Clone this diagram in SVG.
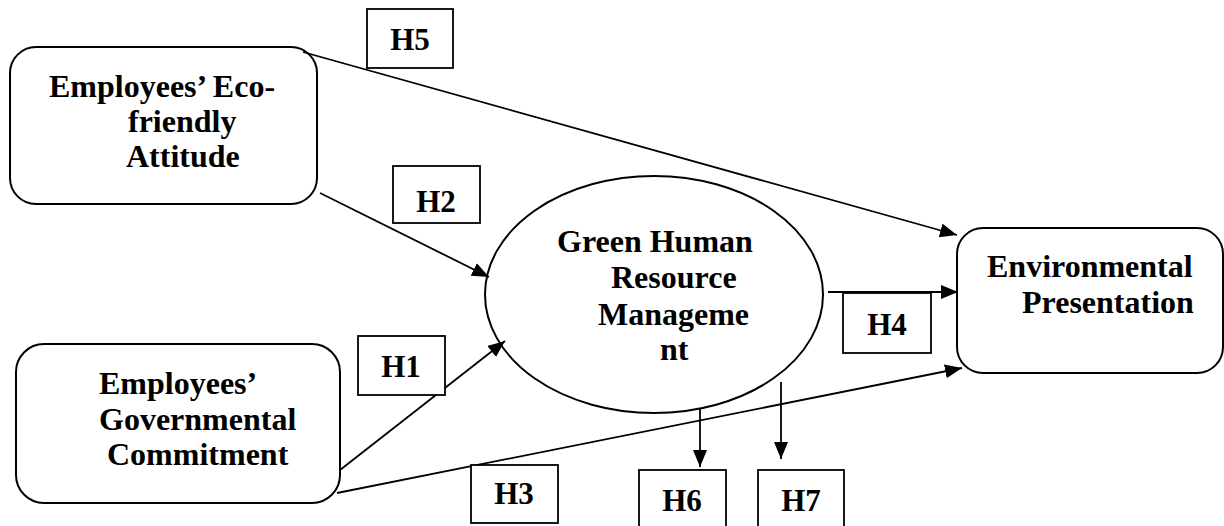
<svg xmlns="http://www.w3.org/2000/svg" width="1224" height="526" viewBox="0 0 1224 526">
<style>
.node{fill:#fff;stroke:#000;stroke-width:2}
.lbl{fill:#fff;stroke:#000;stroke-width:1.8}
.t{font-family:'Liberation Serif','Times New Roman',serif;font-weight:bold;font-size:32px;fill:#000}
.h{font-family:'Liberation Serif','Times New Roman',serif;font-weight:bold;font-size:31px;fill:#000;text-anchor:middle}
.c{fill:none;stroke:#000;stroke-width:1.8;marker-end:url(#arr)}
</style>
<defs>
<marker id="arr" markerUnits="userSpaceOnUse" markerWidth="18" markerHeight="14" refX="17" refY="7" orient="auto">
<path d="M0,0 L17,7 L0,14 z" fill="#000"/>
</marker>
</defs>
<rect width="1224" height="526" fill="#fff"/>
<g id="eco">
<rect class="node" x="10" y="47" width="307" height="157" rx="26"/>
<text class="t" x="49" y="97">Employees’ Eco-</text>
<text class="t" x="128" y="132">friendly</text>
<text class="t" x="126" y="167">Attitude</text>
</g>
<g id="gov">
<rect class="node" x="16" y="344" width="324" height="159" rx="28"/>
<text class="t" x="99" y="394">Employees’</text>
<text class="t" x="99" y="430">Governmental</text>
<text class="t" x="107" y="465">Commitment</text>
</g>
<g id="ghrm">
<ellipse class="node" cx="654" cy="294.5" rx="169" ry="118.5"/>
<text class="t" x="557" y="252">Green Human</text>
<text class="t" x="611" y="288">Resource</text>
<text class="t" x="598" y="325">Manageme</text>
<text class="t" x="660" y="360">nt</text>
</g>
<g id="env">
<rect class="node" x="957" y="228" width="266" height="145" rx="26"/>
<text class="t" x="987" y="277">Environmental</text>
<text class="t" x="1022" y="313">Presentation</text>
</g>
<g id="connectors">
<line class="c" x1="303" y1="52" x2="957" y2="235"/>
<line class="c" x1="320" y1="193" x2="489" y2="277"/>
<line class="c" x1="340" y1="470" x2="505" y2="341"/>
<line class="c" x1="337" y1="493" x2="962" y2="368"/>
<line class="c" x1="828" y1="292" x2="958" y2="292"/>
<line class="c" x1="700" y1="409" x2="700" y2="467"/>
<line class="c" x1="781" y1="382" x2="781" y2="459"/>
</g>
<g id="H5"><rect class="lbl" x="367" y="9" width="86" height="59"/><text class="h" x="410" y="50">H5</text></g>
<g id="H2"><rect class="lbl" x="393" y="166" width="87" height="57"/><text class="h" x="436" y="212">H2</text></g>
<g id="H1"><rect class="lbl" x="358" y="336" width="87" height="59"/><text class="h" x="401" y="377">H1</text></g>
<g id="H3"><rect class="lbl" x="471" y="465" width="87" height="58"/><text class="h" x="514" y="504">H3</text></g>
<g id="H4"><rect class="lbl" x="843" y="293" width="88" height="60"/><text class="h" x="887" y="335">H4</text></g>
<g id="H6"><rect class="lbl" x="639" y="470" width="87" height="70"/><text class="h" x="682" y="511">H6</text></g>
<g id="H7"><rect class="lbl" x="758" y="470" width="86" height="70"/><text class="h" x="801" y="511">H7</text></g>
</svg>
